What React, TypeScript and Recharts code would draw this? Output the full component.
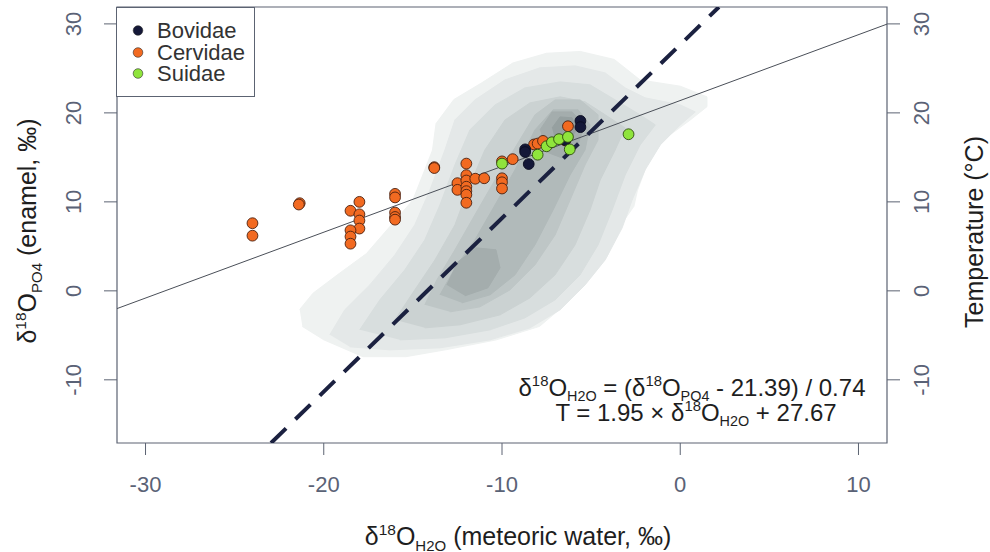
import React from 'react';
import { ScatterChart, Scatter, XAxis, YAxis, ReferenceArea } from 'recharts';

// ---------- axes ----------
const X_DOMAIN: [number, number] = [-31.6, 11.6];
const Y_DOMAIN: [number, number] = [-17.1, 31.9];
const X_TICKS = [-30, -20, -10, 0, 10];
const Y_TICKS = [-10, 0, 10, 20, 30];
const T_TICKS = [-10, 0, 10, 20, 30];

// ---------- series (δ18O_H2O, δ18O_PO4) ----------
const bovidae = [
  { x: -8.7, y: 15.9 }, { x: -8.7, y: 15.6 }, { x: -8.5, y: 14.25 },
  { x: -6.45, y: 16.95 }, { x: -5.6, y: 19.1 }, { x: -5.6, y: 18.4 },
];
const cervidae = [
  { x: -24.0, y: 7.6 }, { x: -24.0, y: 6.2 },
  { x: -21.35, y: 9.85 }, { x: -21.4, y: 9.7 },
  { x: -18.5, y: 9.0 }, { x: -18.0, y: 10.0 }, { x: -18.0, y: 8.6 }, { x: -18.0, y: 7.9 },
  { x: -18.0, y: 7.0 }, { x: -18.5, y: 6.8 }, { x: -18.5, y: 6.1 }, { x: -18.5, y: 5.3 },
  { x: -16.0, y: 10.9 }, { x: -16.0, y: 10.5 }, { x: -16.0, y: 8.8 }, { x: -16.0, y: 8.3 }, { x: -16.0, y: 8.0 },
  { x: -13.8, y: 13.9 }, { x: -13.8, y: 13.8 },
  { x: -12.0, y: 14.3 }, { x: -12.0, y: 13.0 }, { x: -12.5, y: 12.1 }, { x: -12.5, y: 11.35 },
  { x: -12.0, y: 12.4 }, { x: -12.0, y: 11.7 }, { x: -12.0, y: 11.2 }, { x: -12.0, y: 10.8 }, { x: -12.0, y: 9.9 },
  { x: -11.5, y: 12.6 }, { x: -11.0, y: 12.65 },
  { x: -10.0, y: 14.55 }, { x: -10.0, y: 12.65 }, { x: -10.0, y: 12.2 }, { x: -10.0, y: 11.5 },
  { x: -9.4, y: 14.8 },
  { x: -8.2, y: 16.45 }, { x: -8.0, y: 16.55 }, { x: -7.7, y: 16.85 },
  { x: -6.3, y: 18.5 }, { x: -6.45, y: 16.9 },
];
const suidae = [
  { x: -10.0, y: 14.3 }, { x: -8.0, y: 15.3 }, { x: -7.5, y: 16.25 }, { x: -7.2, y: 16.7 },
  { x: -6.8, y: 17.05 }, { x: -6.3, y: 17.3 }, { x: -6.2, y: 15.9 }, { x: -2.9, y: 17.6 },
];

const SERIES_NAMES = ['Bovidae', 'Cervidae', 'Suidae'];
const SERIES_COLORS = ['#141838', '#f26a21', '#8fe43c'];

// ---------- regression / calibration ----------
const REG_SLOPE = 0.74;     // δ18O_PO4 = 0.74 * δ18O_H2O + 21.39
const REG_INTERCEPT = 21.39;
const TEMP_SLOPE = 1.95;    // T = 1.95 * δ18O_H2O + 27.67
const TEMP_INTERCEPT = 27.67;

// ---------- density contour levels (outer → inner) ----------
const density1 = [
  { x: -21.35, y: -2.1 }, { x: -20.6, y: -0.26 }, { x: -19.1, y: 2.0 }, { x: -17.6, y: 4.2 },
  { x: -16.3, y: 7.2 }, { x: -15.0, y: 10.2 }, { x: -13.9, y: 15.8 }, { x: -13.7, y: 18.8 },
  { x: -12.7, y: 21.5 }, { x: -11.2, y: 23.3 }, { x: -9.4, y: 25.6 }, { x: -7.5, y: 26.7 },
  { x: -5.6, y: 26.9 }, { x: -3.7, y: 26.0 }, { x: -2.25, y: 23.7 }, { x: 0.0, y: 23.0 },
  { x: 1.5, y: 21.8 }, { x: 1.5, y: 20.7 }, { x: 0.56, y: 19.2 }, { x: -0.94, y: 17.0 },
  { x: -1.9, y: 14.0 }, { x: -2.4, y: 11.3 }, { x: -2.6, y: 9.5 }, { x: -3.4, y: 7.2 },
  { x: -4.1, y: 3.9 }, { x: -5.2, y: 1.2 }, { x: -6.6, y: -1.8 }, { x: -7.9, y: -4.0 },
  { x: -10.3, y: -5.5 }, { x: -13.1, y: -6.6 }, { x: -15.4, y: -7.4 }, { x: -17.8, y: -7.4 },
  { x: -20.0, y: -5.5 }, { x: -21.2, y: -4.0 },
];
const density2 = [
  { x: -19.66, y: -4.94 }, { x: -18.82, y: -2.13 }, { x: -17.42, y: 0.67 }, { x: -16.01, y: 4.04 },
  { x: -14.89, y: 7.42 }, { x: -14.04, y: 11.35 }, { x: -13.2, y: 15.84 }, { x: -12.64, y: 19.21 },
  { x: -11.52, y: 21.46 }, { x: -9.83, y: 23.71 }, { x: -7.87, y: 25.06 }, { x: -5.9, y: 25.28 },
  { x: -4.21, y: 24.49 }, { x: -3.09, y: 22.81 }, { x: -1.97, y: 21.69 }, { x: 0.0, y: 20.9 },
  { x: 0.84, y: 20.11 }, { x: 0.0, y: 18.65 }, { x: -1.12, y: 16.4 }, { x: -1.97, y: 13.6 },
  { x: -2.7, y: 10.22 }, { x: -3.26, y: 7.08 }, { x: -4.21, y: 3.48 }, { x: -5.34, y: 0.67 },
  { x: -6.74, y: -2.13 }, { x: -8.43, y: -4.16 }, { x: -10.67, y: -5.51 }, { x: -13.48, y: -6.4 },
  { x: -16.29, y: -6.63 }, { x: -18.54, y: -6.29 },
];
const density3 = [
  { x: -17.98, y: -4.38 }, { x: -16.85, y: -1.01 }, { x: -15.45, y: 2.36 }, { x: -14.33, y: 5.73 },
  { x: -13.48, y: 9.66 }, { x: -12.64, y: 14.16 }, { x: -11.8, y: 18.09 }, { x: -10.39, y: 20.9 },
  { x: -8.71, y: 22.81 }, { x: -6.74, y: 23.48 }, { x: -5.06, y: 23.15 }, { x: -3.65, y: 21.46 },
  { x: -2.25, y: 19.78 }, { x: -1.4, y: 18.65 }, { x: -2.25, y: 16.4 }, { x: -3.09, y: 13.03 },
  { x: -3.82, y: 9.1 }, { x: -4.61, y: 5.17 }, { x: -5.62, y: 1.8 }, { x: -7.02, y: -1.01 },
  { x: -8.71, y: -3.03 }, { x: -10.67, y: -4.38 }, { x: -13.2, y: -5.28 }, { x: -15.73, y: -5.51 },
];
const density4 = [
  { x: -16.01, y: -3.26 }, { x: -14.89, y: 0.11 }, { x: -13.76, y: 3.48 }, { x: -12.64, y: 7.42 },
  { x: -11.8, y: 11.91 }, { x: -10.96, y: 15.84 }, { x: -9.83, y: 19.21 }, { x: -8.43, y: 21.12 },
  { x: -6.74, y: 21.8 }, { x: -5.34, y: 21.24 }, { x: -4.21, y: 19.78 }, { x: -3.09, y: 18.31 },
  { x: -3.65, y: 15.84 }, { x: -4.49, y: 12.47 }, { x: -5.06, y: 9.1 }, { x: -5.9, y: 5.17 },
  { x: -7.02, y: 1.8 }, { x: -8.43, y: -0.79 }, { x: -10.11, y: -2.7 }, { x: -12.36, y: -3.82 },
  { x: -14.33, y: -4.16 },
];
const density5 = [
  { x: -14.33, y: -1.57 }, { x: -13.65, y: 1.24 }, { x: -12.64, y: 4.61 }, { x: -11.52, y: 8.54 },
  { x: -10.39, y: 12.47 }, { x: -9.27, y: 16.07 }, { x: -8.15, y: 19.78 }, { x: -7.02, y: 21.46 },
  { x: -5.62, y: 21.46 }, { x: -4.61, y: 19.78 }, { x: -4.61, y: 16.97 }, { x: -5.34, y: 14.16 },
  { x: -6.18, y: 10.22 }, { x: -7.02, y: 6.29 }, { x: -8.15, y: 2.92 }, { x: -9.55, y: 0.11 },
  { x: -11.24, y: -1.8 }, { x: -12.92, y: -2.36 },
];
const density6 = [
  { x: -13.48, y: -0.45 }, { x: -12.64, y: 2.58 }, { x: -11.52, y: 5.73 }, { x: -10.39, y: 9.66 },
  { x: -9.27, y: 13.6 }, { x: -8.15, y: 18.09 }, { x: -7.13, y: 20.34 }, { x: -5.73, y: 20.34 },
  { x: -5.06, y: 18.65 }, { x: -5.34, y: 15.84 }, { x: -6.18, y: 13.03 }, { x: -7.13, y: 9.1 },
  { x: -8.15, y: 5.17 }, { x: -9.27, y: 1.8 }, { x: -10.67, y: -0.45 }, { x: -12.25, y: -1.35 },
];
const density7a = [
  { x: -7.87, y: 18.09 }, { x: -7.19, y: 20.11 }, { x: -6.07, y: 20.11 }, { x: -5.39, y: 18.65 },
  { x: -5.73, y: 16.4 }, { x: -6.63, y: 14.94 }, { x: -7.53, y: 15.62 },
];
const density7b = [
  { x: -13.09, y: 0.67 }, { x: -12.47, y: 3.26 }, { x: -11.46, y: 4.83 }, { x: -10.34, y: 4.61 },
  { x: -10.11, y: 2.58 }, { x: -10.79, y: 0.34 }, { x: -12.08, y: -0.56 },
];
const density8 = [
  { x: -7.19, y: 18.31 }, { x: -6.74, y: 19.55 }, { x: -6.07, y: 19.44 }, { x: -5.79, y: 18.09 },
  { x: -6.35, y: 16.74 }, { x: -7.02, y: 16.97 },
];
const DENSITY_LEVELS = [density1, density2, density3, density4, density5, density6, density7a, density7b, density8];
const DENSITY_COLORS = ['#eff2f1', '#e4e8e8', '#d8dede', '#cbd2d2', '#bec6c6', '#b1baba', '#a4adad', '#a4adad', '#96a0a0'];

// ---------- styling ----------
const FONT = '"Liberation Sans", Arial, Helvetica, sans-serif';
const TICK_COLOR = '#5a6276';
const BOX_COLOR = '#5c6372';
const TEXT_COLOR = '#1e1e1e';

const W = 990;
const H = 552;

const LeftTick = (props: any) => {
  const { y, payload } = props;
  return (
    <text x={81} y={y} transform={`rotate(-90, 81, ${y})`} textAnchor="middle"
      fontFamily={FONT} fontSize={22} fill={TICK_COLOR}>{payload.value}</text>
  );
};
const RightTick = (props: any) => {
  const { y, payload } = props;
  return (
    <text x={929} y={y} transform={`rotate(-90, 929, ${y})`} textAnchor="middle"
      fontFamily={FONT} fontSize={22} fill={TICK_COLOR}>{payload.value}</text>
  );
};
const BottomTick = (props: any) => {
  const { x, payload } = props;
  return (
    <text x={x} y={492} textAnchor="middle" fontFamily={FONT} fontSize={22} fill={TICK_COLOR}>{payload.value}</text>
  );
};

// δ¹⁸O with a subscript, followed by the rest of the text on the baseline
const d18O = (sub: string, size: number, rest: string) => (
  <>
    <tspan>δ</tspan>
    <tspan fontSize={size * 0.62} dy={-size * 0.4}>18</tspan>
    <tspan dy={size * 0.4}>O</tspan>
    <tspan fontSize={size * 0.6} dy={size * 0.22}>{sub}</tspan>
    <tspan dy={-size * 0.22}>{rest}</tspan>
  </>
);

const XTitle = () => (
  <g fontFamily={FONT} fill={TEXT_COLOR}>
    <text x={518} y={545} textAnchor="middle" fontSize={25}>
      {d18O('H2O', 25, ' (meteoric water, ‰)')}
    </text>
    <text x={692} y={396} textAnchor="middle" fontSize={24}>
      {d18O('H2O', 24, ' = (')}
      {d18O('PO4', 24, ' - 21.39) / 0.74')}
    </text>
    <text x={696} y={421} textAnchor="middle" fontSize={24}>
      <tspan>T = 1.95 × </tspan>
      {d18O('H2O', 24, ' + 27.67')}
    </text>
  </g>
);

const LeftTitle = () => (
  <text x={36} y={231} transform="rotate(-90, 36, 231)" textAnchor="middle"
    fontFamily={FONT} fontSize={25} fill={TEXT_COLOR}>
    {d18O('PO4', 25, ' (enamel, ‰)')}
  </text>
);

const RightTitle = () => (
  <text x={983} y={232} transform="rotate(-90, 983, 232)" textAnchor="middle"
    fontFamily={FONT} fontSize={25} fill={TEXT_COLOR}>Temperature (°C)</text>
);

const PointShape = (color: string, stroke: string) => (props: any) => (
  <circle cx={props.cx} cy={props.cy} r={5.4} fill={color} stroke={stroke} strokeWidth={0.9} />
);
const Empty = () => <g />;

const LegendBox = () => (
  <div style={{
    position: 'absolute', left: 116, top: 7,
    width: 139, height: 90, border: `1px solid ${BOX_COLOR}`, background: '#fff',
    boxSizing: 'border-box', fontFamily: FONT, fontSize: 22, color: '#333',
  }}>
    {SERIES_NAMES.map((name, i) => (
      <div key={name} style={{ position: 'absolute', left: 0, top: 12 + i * 21.5, height: 21, lineHeight: '21px', whiteSpace: 'nowrap' }}>
        <svg width={30} height={21} style={{ position: 'absolute', left: 6, top: 0 }}>
          <circle cx={15} cy={10.5} r={4.8} fill={SERIES_COLORS[i]} stroke="#2a2a2a" strokeWidth={0.6} />
        </svg>
        <span style={{ position: 'absolute', left: 40, top: 0 }}>{name}</span>
      </div>
    ))}
  </div>
);

export default function App() {
  // regression line across the full x-range
  const regLine = X_DOMAIN.map((x) => ({ x, y: REG_SLOPE * x + REG_INTERCEPT }));
  // temperature calibration line clipped to the y-range
  const tempLine = Y_DOMAIN.map((y) => ({ x: (y - TEMP_INTERCEPT) / TEMP_SLOPE, y }));
  return (
    <div style={{ position: 'absolute', left: 0, top: 0, width: W, height: H, background: '#fff' }}>
      <ScatterChart width={W} height={H} margin={{ top: 7, right: 0, bottom: 0, left: 0 }}>
        <XAxis type="number" dataKey="x" domain={X_DOMAIN} ticks={X_TICKS} allowDataOverflow
          height={109} tickSize={12} tickLine={{ stroke: BOX_COLOR }} axisLine={false}
          tick={<BottomTick />} label={<XTitle />} />
        <YAxis yAxisId="l" type="number" dataKey="y" domain={Y_DOMAIN} ticks={Y_TICKS} allowDataOverflow
          width={117} tickSize={13} tickLine={{ stroke: BOX_COLOR }} axisLine={false}
          tick={<LeftTick />} label={<LeftTitle />} />
        <YAxis yAxisId="r" orientation="right" type="number" domain={Y_DOMAIN} ticks={T_TICKS} allowDataOverflow
          width={103} tickSize={13} tickLine={{ stroke: BOX_COLOR }} axisLine={false}
          tick={<RightTick />} label={<RightTitle />} />

        {DENSITY_LEVELS.map((poly, i) => (
          <Scatter key={`d${i}`} yAxisId="l" data={poly} fill={DENSITY_COLORS[i]}
            line={{ fill: DENSITY_COLORS[i], stroke: DENSITY_COLORS[i], strokeWidth: 1 }}
            lineJointType="linear" shape={<Empty />} legendType="none" isAnimationActive={false} />
        ))}

        <Scatter yAxisId="l" data={regLine} fill="#4a4f58"
          line={{ stroke: '#4a4f58', strokeWidth: 1, fill: 'none' }} lineJointType="linear"
          shape={<Empty />} legendType="none" isAnimationActive={false} />
        <Scatter yAxisId="l" data={tempLine} fill="#1b2140"
          line={{ stroke: '#1b2140', strokeWidth: 4, strokeDasharray: '21 13', fill: 'none' }} lineJointType="linear"
          shape={<Empty />} legendType="none" isAnimationActive={false} />

        <Scatter name="Cervidae" yAxisId="l" data={cervidae} fill={SERIES_COLORS[1]}
          shape={PointShape(SERIES_COLORS[1], '#4a2010')} isAnimationActive={false} />
        <Scatter name="Bovidae" yAxisId="l" data={bovidae} fill={SERIES_COLORS[0]}
          shape={PointShape(SERIES_COLORS[0], '#0a0c20')} isAnimationActive={false} />
        <Scatter name="Suidae" yAxisId="l" data={suidae} fill={SERIES_COLORS[2]}
          shape={PointShape(SERIES_COLORS[2], '#2f4a10')} isAnimationActive={false} />

        <ReferenceArea yAxisId="l" x1={X_DOMAIN[0]} x2={X_DOMAIN[1]} y1={Y_DOMAIN[0]} y2={Y_DOMAIN[1]}
          fill="none" stroke={BOX_COLOR} strokeWidth={1.2} ifOverflow="visible" />
      </ScatterChart>
      <LegendBox />
    </div>
  );
}
